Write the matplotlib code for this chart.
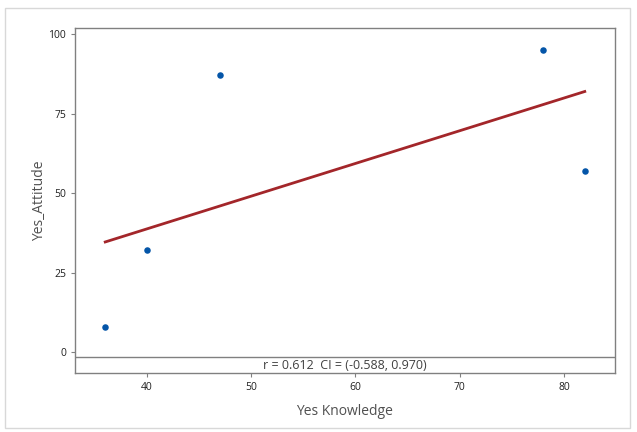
import numpy as np
import matplotlib
matplotlib.use("Agg")
import matplotlib.pyplot as plt
from matplotlib.patches import Rectangle

plt.rcParams['font.family'] = ['Open Sans', 'DejaVu Sans']

# data
knowledge = [36, 40, 47, 78, 82]
attitude = [8, 32, 87, 95, 57]
xticks = [40, 50, 60, 70, 80]
yticks = [0, 25, 50, 75, 100]
note = "r = 0.612  CI = (-0.588, 0.970)"

fig = plt.figure(figsize=(6.37, 4.32), dpi=100)
fig.patches.append(Rectangle((5/637, 4/432), 625/637, 420/432, transform=fig.transFigure,
                             fill=False, edgecolor="#d8d8d8", linewidth=1))

ax = fig.add_axes([75/637, 1 - 373/432, 540/637, 345/432])

# fitted line over data range
slope, icpt = np.polyfit(knowledge, attitude, 1)
xs = np.array([min(knowledge), max(knowledge)])
ax.plot(xs, slope*xs + icpt, color="#a3262a", linewidth=2, zorder=2)
ax.scatter(knowledge, attitude, s=22, color="#0455a8", zorder=3, linewidths=0)

ax.set_xlim(33.1, 84.9)
ax.set_ylim(-6.6, 101.9)
ax.set_xticks(xticks)
ax.set_yticks(yticks)
ax.tick_params(labelsize=7.5, length=3, color="#808080", labelcolor="#202020")
for s in ax.spines.values():
    s.set_color("#808080")
    s.set_linewidth(1)

ax.axhline(-1.6, color="#808080", linewidth=1)
ax.text(0.5, -4.1, note, transform=ax.get_yaxis_transform(), ha="center", va="center",
        fontsize=9, color="#404040")

ax.set_xlabel("Yes Knowledge", fontsize=10, color="#505050", labelpad=8)
ax.set_ylabel("Yes_Attitude", fontsize=10, color="#505050", labelpad=1)

fig.savefig("out.png", dpi=100)
